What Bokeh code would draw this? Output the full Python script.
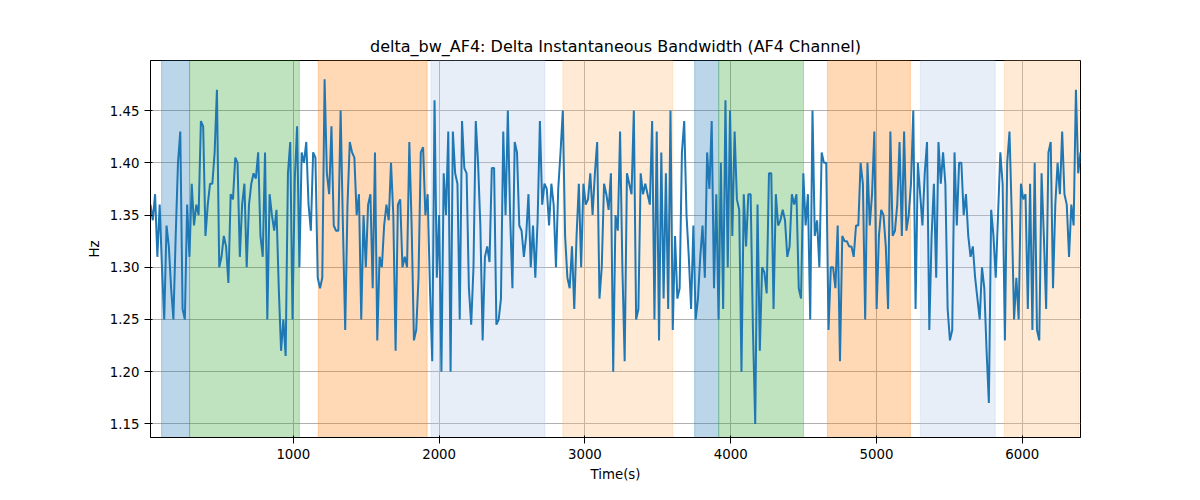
import numpy as np

from bokeh.plotting import figure
from bokeh.models import BoxAnnotation, Range1d, NumeralTickFormatter
from bokeh.embed import file_html
from bokeh.resources import INLINE

# bandwidth values
bw_part1 = [1.36, 1.345, 1.37, 1.31, 1.36, 1.30, 1.25, 1.34, 1.32, 1.28, 1.25, 1.33, 1.40, 1.43, 1.26, 1.25,
            1.36, 1.31, 1.38, 1.34, 1.36, 1.35, 1.44, 1.435, 1.33, 1.36, 1.38, 1.38, 1.41, 1.47, 1.30, 1.31,
            1.33, 1.32, 1.285, 1.37, 1.365, 1.405, 1.40, 1.31, 1.36, 1.38, 1.30, 1.36, 1.38, 1.39, 1.385, 1.41,
            1.33, 1.31, 1.41, 1.25, 1.37, 1.35, 1.335, 1.355, 1.28, 1.22, 1.25, 1.215, 1.39, 1.42, 1.25, 1.385,
            1.435, 1.30, 1.41, 1.40, 1.42, 1.36, 1.335, 1.41, 1.405, 1.29, 1.28, 1.29, 1.48, 1.39, 1.37, 1.435,
            1.34, 1.335, 1.335, 1.45, 1.34, 1.24, 1.36, 1.42, 1.41, 1.405, 1.35, 1.37, 1.25, 1.35, 1.30, 1.36,
            1.37, 1.28, 1.41, 1.23]
bw_part2 = [1.31, 1.30, 1.34, 1.36, 1.345, 1.40, 1.35, 1.22, 1.36, 1.365, 1.30, 1.31, 1.30, 1.42, 1.34,
            1.23, 1.24, 1.29, 1.41, 1.415, 1.35, 1.37, 1.28, 1.21, 1.46, 1.29, 1.35, 1.20, 1.39, 1.35, 1.43,
            1.20, 1.43, 1.39, 1.38, 1.25, 1.44, 1.395, 1.39, 1.28, 1.245, 1.30, 1.44, 1.40, 1.34, 1.23, 1.31,
            1.32, 1.305, 1.395, 1.395, 1.245, 1.25, 1.27, 1.43, 1.35, 1.45, 1.35, 1.28, 1.42, 1.41, 1.34, 1.335,
            1.31, 1.33, 1.37, 1.30, 1.34, 1.29, 1.345, 1.44, 1.36, 1.38, 1.375, 1.34, 1.38, 1.36, 1.30, 1.375,
            1.41, 1.45, 1.33, 1.29, 1.28, 1.32, 1.26, 1.33, 1.38, 1.30, 1.38, 1.36, 1.365, 1.39, 1.35, 1.39,
            1.42, 1.27, 1.30, 1.38, 1.37, 1.355, 1.39, 1.20, 1.35, 1.335, 1.43]
bw_part3 = [1.30, 1.21, 1.39, 1.38, 1.37, 1.45, 1.25, 1.26, 1.39, 1.37, 1.38, 1.37, 1.36, 1.44, 1.25, 1.43,
            1.23, 1.41, 1.27, 1.39, 1.26, 1.45, 1.24, 1.33, 1.27, 1.28, 1.41, 1.44, 1.35, 1.31, 1.26, 1.34,
            1.25, 1.27, 1.31, 1.34, 1.29, 1.41, 1.375, 1.44, 1.28, 1.37, 1.25, 1.40, 1.26, 1.46, 1.30, 1.45,
            1.33, 1.43, 1.365, 1.355, 1.20, 1.37, 1.32, 1.37, 1.37, 1.24, 1.15, 1.36, 1.22, 1.30, 1.295, 1.275,
            1.39, 1.39, 1.26, 1.37, 1.34, 1.345, 1.355, 1.345, 1.31, 1.32, 1.37, 1.36, 1.37, 1.28, 1.27, 1.39,
            1.34, 1.37, 1.25, 1.45, 1.33, 1.345, 1.30, 1.41, 1.40, 1.40, 1.24, 1.30, 1.30, 1.28, 1.34, 1.21,
            1.33, 1.325, 1.325, 1.32, 1.32, 1.31]
bw_part4 = [1.34, 1.34, 1.40, 1.38, 1.25, 1.40, 1.34, 1.37, 1.43, 1.26, 1.33, 1.355, 1.35, 1.32, 1.26, 1.43,
            1.33, 1.335, 1.36, 1.42, 1.33, 1.43, 1.335, 1.35, 1.38, 1.45, 1.26, 1.40, 1.37, 1.34, 1.39, 1.42,
            1.24, 1.33, 1.38, 1.29, 1.42, 1.38, 1.41, 1.38, 1.26, 1.23, 1.24, 1.41, 1.34, 1.40, 1.40, 1.35,
            1.37, 1.33, 1.31, 1.32, 1.29, 1.27, 1.25, 1.30, 1.28, 1.22, 1.17, 1.355, 1.33, 1.29, 1.35, 1.41,
            1.38, 1.23, 1.40, 1.43, 1.35, 1.25, 1.29, 1.25, 1.38, 1.365, 1.37, 1.26, 1.38, 1.24, 1.40, 1.24,
            1.23, 1.39, 1.33, 1.26, 1.41, 1.42, 1.28, 1.36, 1.40, 1.37, 1.43, 1.37, 1.36, 1.31, 1.36, 1.34,
            1.47, 1.39, 1.41]
bw = bw_part1 + bw_part2 + bw_part3 + bw_part4
t_start, t_end = 20, 6400
times = np.linspace(t_start, t_end, len(bw))

# shaded segments: (start, end, colour, alpha)
spans = [
    (96, 288, "#1f77b4", 0.3), (288, 1041, "#2ca02c", 0.3), (1171, 1918, "#ff7f0e", 0.3),
    (1945, 2726, "#aec7e8", 0.3), (2849, 3603, "#ffbb78", 0.3), (3753, 3918, "#1f77b4", 0.3),
    (3918, 4500, "#2ca02c", 0.3), (4664, 5233, "#ff7f0e", 0.3), (5301, 5815, "#aec7e8", 0.3),
    (5877, 6390, "#ffbb78", 0.3),
]

p = figure(width=1184, height=484, output_backend="svg", toolbar_location=None,
           title="delta_bw_AF4: Delta Instantaneous Bandwidth (AF4 Channel)",
           x_axis_label="Time(s)", y_axis_label="Hz",
           x_range=Range1d(t_start, t_end), y_range=Range1d(1.137, 1.498),
           min_border_left=150, min_border_right=104, min_border_top=60, min_border_bottom=39)
p.title.align = "center"
p.title.text_font = "DejaVu Sans"
p.title.text_font_size = "12pt"
p.title.text_font_style = "normal"
p.title.text_color = "black"
for ax in (p.xaxis, p.yaxis):
    ax.axis_label_text_font = "DejaVu Sans"
    ax.axis_label_text_font_style = "normal"
    ax.axis_label_text_font_size = "10pt"
    ax.axis_label_text_color = "black"
    ax.major_label_text_font = "DejaVu Sans"
    ax.major_label_text_font_size = "10pt"
    ax.major_label_text_color = "black"
    ax.minor_tick_line_color = None
    ax.axis_line_color = "black"
    ax.major_tick_line_color = "black"
p.xaxis.ticker = [1000, 2000, 3000, 4000, 5000, 6000]
p.yaxis.ticker = [1.15, 1.20, 1.25, 1.30, 1.35, 1.40, 1.45]
p.yaxis.formatter = NumeralTickFormatter(format="0.00")
p.grid.grid_line_color = "#b0b0b0"
p.outline_line_color = "black"

for s, e, c, a in spans:
    p.add_layout(BoxAnnotation(left=s, right=e, fill_color=c, fill_alpha=a,
                               line_color=c, line_alpha=a, level="underlay"))

p.line(times, bw, line_color="#1f77b4", line_width=2)

open("out.html", "w").write(file_html(p, INLINE))
